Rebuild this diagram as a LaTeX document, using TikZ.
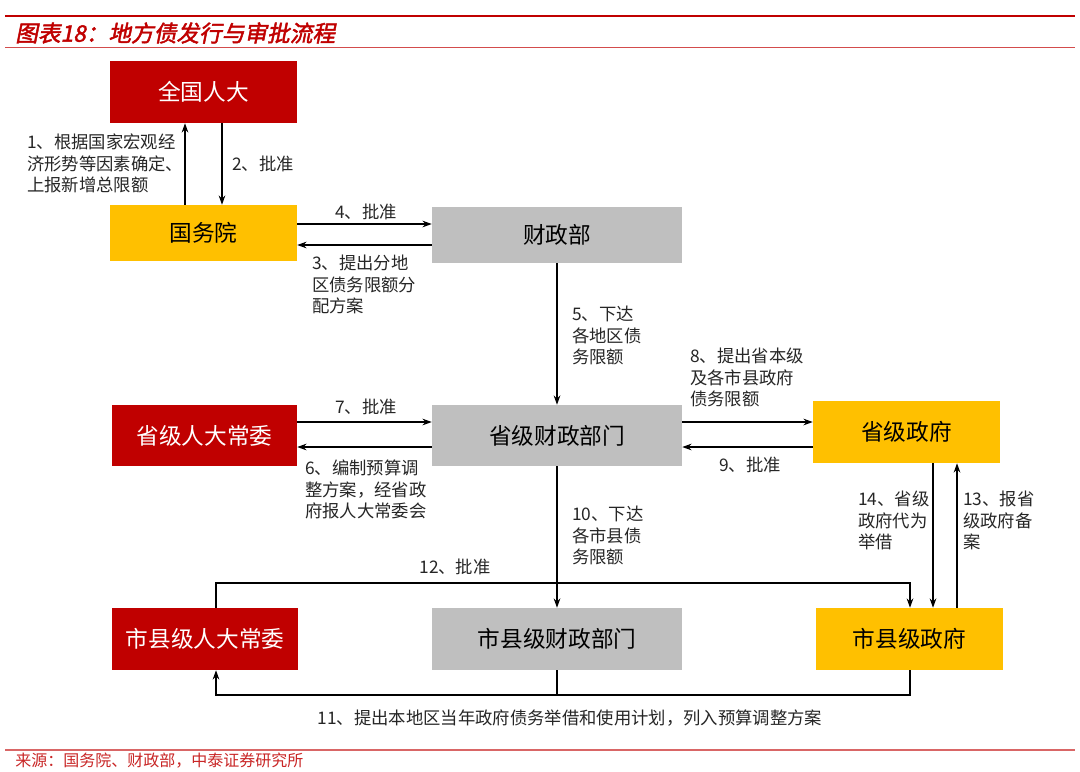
\documentclass[tikz,border=0pt]{standalone}
\usepackage{fontspec}
\setmainfont{Noto Sans CJK SC}
\newfontfamily\titlefont[FakeSlant=0.2,FakeBold=2]{Noto Sans CJK SC}
\usetikzlibrary{arrows.meta}
\definecolor{cred}{HTML}{C00000}
\definecolor{cyel}{HTML}{FFC000}
\definecolor{cgray}{HTML}{BFBFBF}
\tikzset{
  box/.style={inner sep=0pt, font=\fontsize{17}{18}\selectfont},
  redbox/.style={box, fill=cred, text=white},
  yelbox/.style={box, fill=cyel, text=black},
  graybox/.style={box, fill=cgray, text=black},
  arr/.style={line width=1pt, -{Stealth[length=7pt,width=5pt]}},
  ln/.style={line width=1pt},
  lbl/.style={inner sep=0pt, align=left, font=\fontsize{13}{16.1}\selectfont, text=black!85},
}
\begin{document}
\begin{tikzpicture}[x=0.75pt,y=-0.75pt]
\useasboundingbox (0,0) rectangle (1080,771);
\fill[white] (0,0) rectangle (1080,771);
% header
\draw[cred, line width=2.2pt] (5,16) -- (1075,16);
\node[anchor=west, inner sep=0pt, text=cred, font=\titlefont\fontsize{17}{19}\selectfont] (title) at (15,33) {图表18：地方债发行与审批流程};
\draw[cred!70, line width=0.6pt] (5,47) -- (1075,47);
% footer
\draw[cred!60, line width=0.8pt] (5,750) -- (1075,750);
\node[anchor=west, inner sep=0pt, text=cred!85, font=\fontsize{12}{14}\selectfont] (src) at (15,761) {来源：国务院、财政部，中泰证券研究所};
% boxes
\node[redbox, minimum width=140.25pt, minimum height=46.5pt] (npc) at (203.5,92) {全国人大};
\node[yelbox, minimum width=140.25pt, minimum height=42pt] (gwy) at (203.5,233) {国务院};
\node[graybox, minimum width=187.5pt, minimum height=42pt] (czb) at (557,235) {财政部};
\node[redbox, minimum width=138.75pt, minimum height=45.75pt] (sjrd) at (204.5,435.5) {省级人大常委};
\node[graybox, minimum width=187.5pt, minimum height=45.75pt] (sjcz) at (557,435.5) {省级财政部门};
\node[yelbox, minimum width=140.25pt, minimum height=46.5pt] (sjzf) at (906.5,432) {省级政府};
\node[redbox, minimum width=139.5pt, minimum height=46.5pt] (xrd) at (205,639) {市县级人大常委};
\node[graybox, minimum width=187.5pt, minimum height=46.5pt] (xcz) at (557,639) {市县级财政部门};
\node[yelbox, minimum width=140.25pt, minimum height=46.5pt] (xzf) at (909.5,639) {市县级政府};
% helper coordinates
\coordinate (c185) at (185,0);
\coordinate (c222) at (222,0);
\coordinate (y224) at (0,224);
\coordinate (y245) at (0,245);
\coordinate (y422) at (0,422);
\coordinate (y447) at (0,447);
\coordinate (c933) at (933,0);
\coordinate (c957) at (957,0);
\coordinate (c216) at (216,0);
\coordinate (c910) at (910,0);
\coordinate (top12) at (216,583);
\coordinate (topR12) at (910,583);
\coordinate (bot11L) at (216,695);
\coordinate (bot11R) at (910,695);
\coordinate (bot11M) at (557,695);
% connectors
\draw[arr] (gwy.north -| c185) -- (npc.south -| c185);
\draw[arr] (npc.south -| c222) -- (gwy.north -| c222);
\draw[arr] (gwy.east |- y224) -- (czb.west |- y224);
\draw[arr] (czb.west |- y245) -- (gwy.east |- y245);
\draw[arr] (czb.south) -- (sjcz.north);
\draw[arr] (sjrd.east |- y422) -- (sjcz.west |- y422);
\draw[arr] (sjcz.west |- y447) -- (sjrd.east |- y447);
\draw[arr] (sjcz.east |- y422) -- (sjzf.west |- y422);
\draw[arr] (sjzf.west |- y447) -- (sjcz.east |- y447);
\draw[arr] (sjcz.south) -- (xcz.north);
\draw[arr] (sjzf.south -| c933) -- (xzf.north -| c933);
\draw[arr] (xzf.north -| c957) -- (sjzf.south -| c957);
\draw[arr] (xrd.north -| c216) -- (top12) -- (topR12) -- (xzf.north -| c910);
\draw[arr] (xzf.south -| c910) -- (bot11R) -- (bot11L) -- (xrd.south -| c216);
\draw[ln] (xcz.south) -- (bot11M);
% labels
\node[lbl, anchor=north west] (l1) at (27,134) {1、根据国家宏观经\\济形势等因素确定、\\上报新增总限额};
\node[lbl, anchor=north west] (l2) at (232,156) {2、批准};
\node[lbl] (l4) at (366,212) {4、批准};
\node[lbl, anchor=north west] (l3) at (312,255) {3、提出分地\\区债务限额分\\配方案};
\node[lbl, anchor=north west] (l5) at (572,306) {5、下达\\各地区债\\务限额};
\node[lbl] (l7) at (366,407) {7、批准};
\node[lbl, anchor=north west] (l6) at (305,460) {6、编制预算调\\整方案，经省政\\府报人大常委会};
\node[lbl, anchor=north west] (l8) at (690,348) {8、提出省本级\\及各市县政府\\债务限额};
\node[lbl] (l9) at (750,465) {9、批准};
\node[lbl, anchor=north west] (l10) at (572,506) {10、下达\\各市县债\\务限额};
\node[lbl, anchor=north west] (l14) at (858,491) {14、省级\\政府代为\\举借};
\node[lbl, anchor=north west] (l13) at (963,491) {13、报省\\级政府备\\案};
\node[lbl] (l12) at (455,567) {12、批准};
\node[lbl] (l11) at (570,718) {11、提出本地区当年政府债务举借和使用计划，列入预算调整方案};
\end{tikzpicture}
\end{document}
